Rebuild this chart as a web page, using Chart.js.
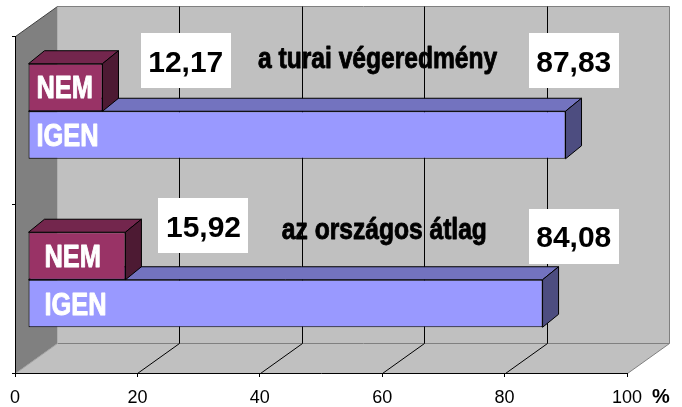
<!DOCTYPE html>
<html>
<head>
<meta charset="utf-8">
<script src="https://cdn.jsdelivr.net/npm/chart.js@4.4.1/dist/chart.umd.min.js"></script>
<style>
  html, body { margin: 0; padding: 0; background: #fff; }
  #wrap { width: 682px; height: 407px; }
</style>
</head>
<body>
<div id="wrap"><canvas id="chart" width="682" height="407"></canvas></div>
<script>
// Values
const categories = ['a turai végeredmény', 'az országos átlag'];
const seriesNames = ['NEM', 'IGEN'];
const nemValues = [12.17, 15.92];
const igenValues = [87.83, 84.08];
const xTicks = [0, 20, 40, 60, 80, 100];
const axisUnit = '%';

// Fake 3D geometry (pixels)
const WALL_DX = 42, WALL_DY = -30;        // depth of the plot box
const BAR_SHIFT_X = 13, BAR_SHIFT_Y = -9; // bars sit a bit inside the box
const BAR_DX = 16, BAR_DY = -13;          // depth of each bar

const faceColors = [
    { front: '#993366', top: '#73264d', side: '#4d1a33' },  // NEM
    { front: '#9999ff', top: '#7373bf', side: '#4d4d80' }   // IGEN
];

// Where the text boxes go: x in axis units, y offset from the category centre
const notePlaces = [
    { nem: [27.9, -59.75], igen: [91.3, -59.75], title: [39.7, -52.25], inset: 8 },
    { nem: [30.8, -63.25], igen: [91.3, -52.75], title: [43.6, -49.75], inset: 16 }
];

const FONT = "'Liberation Sans', Arial, sans-serif";

function poly(ctx, pts, fill, stroke) {
    ctx.beginPath();
    ctx.moveTo(pts[0][0], pts[0][1]);
    for (let i = 1; i < pts.length; i++) ctx.lineTo(pts[i][0], pts[i][1]);
    ctx.closePath();
    if (fill) { ctx.fillStyle = fill; ctx.fill(); }
    if (stroke) { ctx.strokeStyle = stroke; ctx.lineWidth = 1; ctx.stroke(); }
}

function line(ctx, x1, y1, x2, y2, color) {
    ctx.beginPath();
    ctx.moveTo(x1, y1);
    ctx.lineTo(x2, y2);
    ctx.strokeStyle = color;
    ctx.lineWidth = 1;
    ctx.stroke();
}

// Arial Narrow Bold look-alike: squeezed and slightly thickened
function narrowText(ctx, text, x, y, size, color) {
    ctx.save();
    ctx.translate(x, y);
    ctx.scale(0.82, 1);
    ctx.font = 'bold ' + size + 'px ' + FONT;
    ctx.fillStyle = color;
    ctx.strokeStyle = color;
    ctx.lineWidth = 0.9;
    ctx.lineJoin = 'round';
    ctx.textAlign = 'left';
    ctx.textBaseline = 'alphabetic';
    ctx.fillText(text, 0, 0);
    ctx.strokeText(text, 0, 0);
    ctx.restore();
}

const fmt = v => v.toFixed(2).replace('.', ',');

// Walls, floor and the back gridlines
const boxPlugin = {
    id: 'box3d',
    beforeDraw(chart) {
        const ctx = chart.ctx;
        const a = chart.chartArea;
        const xs = chart.scales.x;
        const L = a.left + 0.5, R = a.right + 0.5, T = a.top + 0.5, B = a.bottom + 0.5;
        const dx = WALL_DX, dy = WALL_DY;
        ctx.save();
        // back wall
        poly(ctx, [[L + dx, T + dy], [R + dx, T + dy], [R + dx, B + dy], [L + dx, B + dy]], '#c0c0c0');
        // left wall
        poly(ctx, [[L, T], [L + dx, T + dy], [L + dx, B + dy], [L, B]], '#808080');
        // floor
        poly(ctx, [[L, B], [R, B], [R + dx, B + dy], [L + dx, B + dy]], '#c0c0c0');
        // edges
        line(ctx, L + dx, T + dy, R + dx, T + dy, '#808080');
        line(ctx, R + dx, T + dy, R + dx, B + dy, '#808080');
        line(ctx, L + dx, B + dy, R + dx, B + dy, '#808080');
        line(ctx, R, B, R + dx, B + dy, '#808080');
        line(ctx, L, B, L + dx, B + dy, '#a0a0a0');
        line(ctx, L, T, L + dx, T + dy, '#404040');
        // gridlines on back wall and floor
        xTicks.slice(1, -1).forEach(v => {
            const px = Math.round(xs.getPixelForValue(v)) + 0.5;
            line(ctx, px + dx, T + dy, px + dx, B + dy, '#000');
            line(ctx, px, B, px + dx, B + dy, '#000');
        });
        ctx.restore();
    },
    beforeDatasetsDraw(chart) {
        const ctx = chart.ctx;
        ctx.save();
        ctx.translate(BAR_SHIFT_X, BAR_SHIFT_Y);
        // top and side faces, IGEN first so NEM sits over it
        [1, 0].forEach(di => {
            const meta = chart.getDatasetMeta(di);
            const c = faceColors[di];
            meta.data.forEach(bar => {
                const p = bar.getProps(['x', 'y', 'base', 'height'], true);
                const top = p.y - p.height / 2, bot = p.y + p.height / 2;
                poly(ctx, [[p.base, top], [p.x, top], [p.x + BAR_DX, top + BAR_DY], [p.base + BAR_DX, top + BAR_DY]], c.top, '#000');
                poly(ctx, [[p.x, top], [p.x + BAR_DX, top + BAR_DY], [p.x + BAR_DX, bot + BAR_DY], [p.x, bot]], c.side, '#000');
            });
        });
    },
    afterDatasetsDraw(chart) {
        const ctx = chart.ctx;
        // series names inside the bars (still in the shifted plane)
        chart.data.datasets.forEach((ds, di) => {
            chart.getDatasetMeta(di).data.forEach((bar, i) => {
                const p = bar.getProps(['y', 'base'], true);
                narrowText(ctx, ds.label, p.base + notePlaces[i].inset, p.y + 11, 31, '#fff');
            });
        });
        ctx.restore();
    },
    afterDraw(chart) {
        const ctx = chart.ctx;
        const xs = chart.scales.x, ys = chart.scales.y;
        ctx.save();
        categories.forEach((cat, i) => {
            const cy = ys.getPixelForValue(i);
            const pl = notePlaces[i];
            [[nemValues[i], pl.nem], [igenValues[i], pl.igen]].forEach(([v, pos]) => {
                const cx = xs.getPixelForValue(pos[0]);
                const by = cy + pos[1];
                ctx.fillStyle = '#fff';
                ctx.fillRect(Math.round(cx - 45), Math.round(by - 27.5), 90, 55);
                ctx.font = 'bold 30px ' + FONT;
                ctx.fillStyle = '#000';
                ctx.textAlign = 'center';
                ctx.textBaseline = 'alphabetic';
                ctx.fillText(fmt(v), cx, by + 11);
            });
            narrowText(ctx, cat, xs.getPixelForValue(pl.title[0]), cy + pl.title[1], 30, '#000');
        });
        // unit after the last tick label
        ctx.font = 'bold 20px ' + FONT;
        ctx.fillStyle = '#000';
        ctx.textAlign = 'left';
        ctx.textBaseline = 'alphabetic';
        ctx.fillText(axisUnit, xs.getPixelForValue(100) + 25, chart.chartArea.bottom + 30);
        ctx.restore();
    }
};

new Chart(document.getElementById('chart'), {
    type: 'bar',
    data: {
        labels: categories,
        datasets: [
            {
                label: seriesNames[0],
                data: nemValues,
                backgroundColor: faceColors[0].front
            },
            {
                label: seriesNames[1],
                data: igenValues,
                backgroundColor: faceColors[1].front
            }
        ]
    },
    options: {
        indexAxis: 'y',
        responsive: false,
        animation: false,
        devicePixelRatio: 1,
        layout: {
            padding: { left: 12, right: 55, top: 36, bottom: 0 }
        },
        datasets: {
            bar: {
                borderColor: '#000',
                borderWidth: 1,
                borderSkipped: false,
                inflateAmount: 0,
                barPercentage: 1,
                categoryPercentage: 0.564,
                clip: false
            }
        },
        plugins: {
            legend: { display: false },
            tooltip: { enabled: false }
        },
        scales: {
            x: {
                min: 0,
                max: 100,
                afterBuildTicks: s => { s.ticks = xTicks.map(v => ({ value: v })); },
                afterFit: s => { s.height = 34; },
                grid: {
                    drawOnChartArea: false,
                    drawTicks: true,
                    tickLength: 4,
                    color: '#000'
                },
                border: { color: '#000', width: 1 },
                ticks: {
                    color: '#000',
                    padding: 10,
                    maxRotation: 0,
                    font: { family: FONT, size: 18 }
                }
            },
            y: {
                afterFit: s => { s.width = 3; },
                grid: {
                    offset: true,
                    drawOnChartArea: false,
                    drawTicks: true,
                    tickLength: 3,
                    color: '#000'
                },
                border: { color: '#000', width: 1 },
                ticks: { display: false }
            }
        }
    },
    plugins: [boxPlugin]
});
</script>
</body>
</html>
